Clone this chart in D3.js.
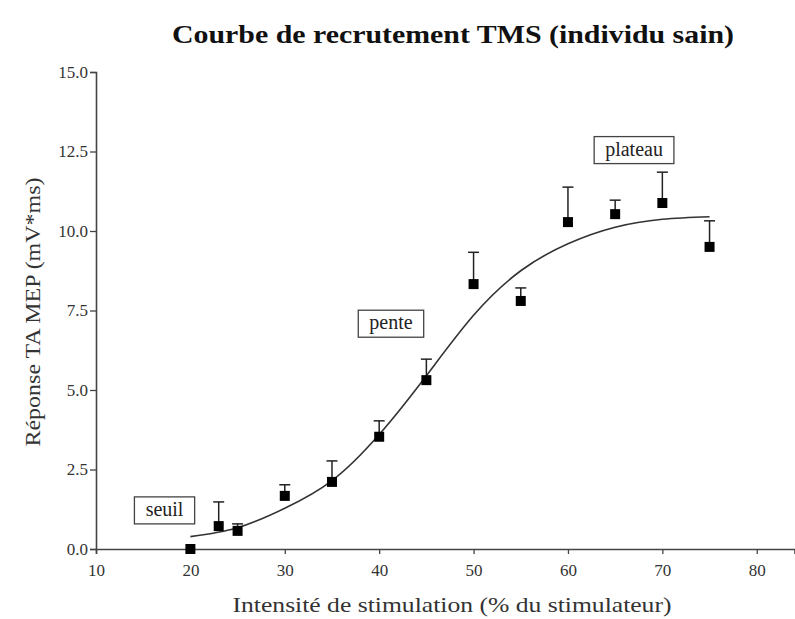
<!DOCTYPE html>
<html>
<head>
<meta charset="utf-8">
<script src="https://cdn.jsdelivr.net/npm/d3@7"></script>
<style>
  body { margin: 0; background: #fff; }
  svg { display: block; font-family: "Liberation Serif", "Times New Roman", serif; }
</style>
</head>
<body>
<div id="chart"></div>
<script>
// mesures (moyenne + erreur)
const intensites = [20, 23, 25, 30, 35, 40, 45, 50, 55, 60, 65, 70, 75];
const reponses   = [0.0, 0.72, 0.57, 1.67, 2.11, 3.53, 5.31, 8.33, 7.8, 10.28, 10.53, 10.88, 9.5];
const erreurs    = [0.0, 0.76, 0.22, 0.35, 0.66, 0.5, 0.66, 1.0, 0.41, 1.1, 0.44, 0.97, 0.82];

// courbe ajustee
const courbeX = [20, 25, 30, 35, 40, 45, 50, 55, 60, 65, 70, 75];
const courbeY = [0.39, 0.67, 1.28, 2.15, 3.6, 5.45, 7.35, 8.75, 9.6, 10.12, 10.37, 10.45];

const xTicks = [10, 20, 30, 40, 50, 60, 70, 80];
const yTicks = [0, 2.5, 5, 7.5, 10, 12.5, 15];

const etiquettes = ["seuil", "pente", "plateau"];
const etiquettesX = [17.26, 41.25, 67.0];
const etiquettesY = [1.23, 7.1, 12.56];

const W = 795, H = 619;

const svg = d3.select("#chart").append("svg")
  .attr("width", W)
  .attr("height", H);

const x = d3.scaleLinear().domain([10, 84]).range([96, 794.5]);
const y = d3.scaleLinear().domain([0, 15]).range([549, 72]);

const axisColor = "#444";

// axe X
const gx = svg.append("g")
  .attr("transform", "translate(0," + y(0) + ")")
  .call(d3.axisBottom(x).tickValues(xTicks).tickSize(5).tickPadding(10).tickFormat(d3.format("d")));

// axe Y
const gy = svg.append("g")
  .attr("transform", "translate(" + x(10) + ",0)")
  .call(d3.axisLeft(y).tickValues(yTicks).tickSize(6).tickPadding(2).tickFormat(d3.format(".1f")));

[gx, gy].forEach(function (g) {
  g.select(".domain").attr("stroke", axisColor).attr("stroke-width", 1.6);
  g.selectAll(".tick line").attr("stroke", axisColor).attr("stroke-width", 1.3);
  g.selectAll(".tick text")
    .attr("fill", "#333")
    .style("font-family", "'Liberation Serif', serif")
    .style("font-size", "17px");
});

// courbe
const line = d3.line()
  .x(function (d, i) { return x(courbeX[i]); })
  .y(function (d) { return y(d); })
  .curve(d3.curveNatural);

svg.append("path")
  .datum(courbeY)
  .attr("fill", "none")
  .attr("stroke", "#333")
  .attr("stroke-width", 1.6)
  .attr("d", line);

// barres d'erreur (vers le haut)
const pts = intensites.map(function (v, i) {
  return { x: v, y: reponses[i], e: erreurs[i] };
});

const eb = svg.append("g").attr("stroke", "#222").attr("stroke-width", 1.5);
pts.filter(function (d) { return d.e > 0; }).forEach(function (d) {
  eb.append("line")
    .attr("x1", x(d.x)).attr("x2", x(d.x))
    .attr("y1", y(d.y)).attr("y2", y(d.y + d.e));
  eb.append("line")
    .attr("x1", x(d.x) - 5.5).attr("x2", x(d.x) + 5.5)
    .attr("y1", y(d.y + d.e)).attr("y2", y(d.y + d.e));
});

// marqueurs carres
const s = 10;
svg.append("g").selectAll("rect")
  .data(pts)
  .join("rect")
  .attr("x", function (d) { return x(d.x) - s / 2; })
  .attr("y", function (d) { return y(d.y) - s / 2; })
  .attr("width", s)
  .attr("height", s)
  .attr("fill", "#000");

// etiquettes encadrees
etiquettes.forEach(function (t, i) {
  const g = svg.append("g");
  const cx = x(etiquettesX[i]), cy = y(etiquettesY[i]);
  const txt = g.append("text")
    .attr("x", cx)
    .attr("y", cy)
    .attr("text-anchor", "middle")
    .attr("dy", "0.3em")
    .style("font-size", "20px")
    .attr("fill", "#222")
    .text(t);
  const bb = txt.node().getBBox();
  g.insert("rect", "text")
    .attr("x", cx - bb.width / 2 - 11)
    .attr("y", cy - 13)
    .attr("width", bb.width + 22)
    .attr("height", 27)
    .attr("fill", "#fff")
    .attr("stroke", "#444")
    .attr("stroke-width", 1.3);
});

// titre
svg.append("text")
  .attr("x", 453)
  .attr("y", 43)
  .attr("text-anchor", "middle")
  .style("font-size", "26px")
  .style("font-weight", "bold")
  .attr("textLength", 562)
  .attr("lengthAdjust", "spacingAndGlyphs")
  .attr("fill", "#111")
  .text("Courbe de recrutement TMS (individu sain)");

// titres des axes
svg.append("text")
  .attr("x", 452)
  .attr("y", 612)
  .attr("text-anchor", "middle")
  .style("font-size", "21px")
  .attr("textLength", 439)
  .attr("lengthAdjust", "spacingAndGlyphs")
  .attr("fill", "#333")
  .text("Intensité de stimulation (% du stimulateur)");

svg.append("text")
  .attr("transform", "translate(40,312) rotate(-90)")
  .attr("text-anchor", "middle")
  .style("font-size", "21px")
  .attr("textLength", 269)
  .attr("lengthAdjust", "spacingAndGlyphs")
  .attr("fill", "#333")
  .text("Réponse TA MEP (mV*ms)");
</script>
</body>
</html>
